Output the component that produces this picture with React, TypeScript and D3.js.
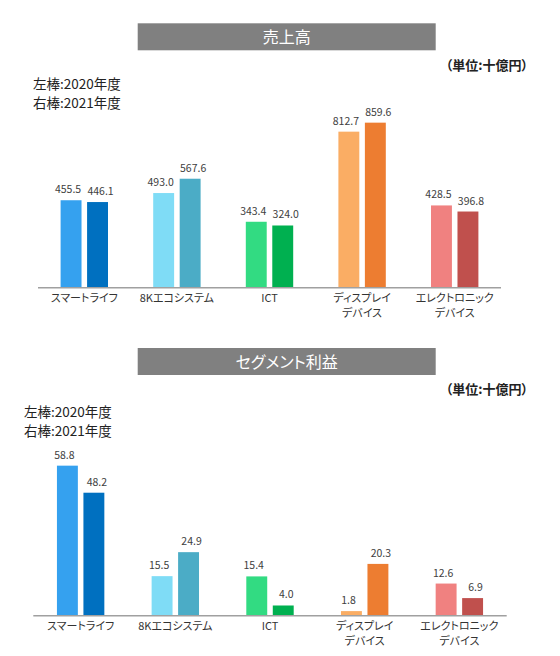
import React, { useEffect } from "react";
import * as d3 from "d3";

const categories = ["スマートライフ", "8Kエコシステム", "ICT", "ディスプレイ\nデバイス", "エレクトロニック\nデバイス"];
const years = ["2020", "2021"];
const sales2020 = [455.5, 493.0, 343.4, 812.7, 428.5];
const sales2021 = [446.1, 567.6, 324.0, 859.6, 396.8];
const profit2020 = [58.8, 15.5, 15.4, 1.8, 12.6];
const profit2021 = [48.2, 24.9, 4.0, 20.3, 6.9];
const colors2020 = ["#35A1EF", "#7FDCF6", "#32DB82", "#FAAD64", "#F08180"];
const colors2021 = ["#0070C0", "#4BACC6", "#00B050", "#ED7D31", "#C0504D"];
const salesTitle = "売上高";
const profitTitle = "セグメント利益";
const unitLabel = "（単位:十億円）";
const legendLines = ["左棒:2020年度", "右棒:2021年度"];

const FONT = "'Noto Sans CJK JP', 'Noto Sans', sans-serif";

type PanelProps = {
  title: string;
  v2020: number[];
  v2021: number[];
  yMax: number;
  pxPerUnitHeight: number;
  boxY: number;
  unitY: number;
  legendX: number;
  legendY: number[];
  axisX: [number, number];
  baseY: number;
};

function Panel(p: PanelProps) {
  const x0 = d3.scaleBand<string>().domain(categories).range(p.axisX).paddingInner(0).paddingOuter(0);
  const x1 = d3.scaleBand<string>().domain(years).range([-23.7, 23.7]).paddingInner(0.21);
  const y = d3.scaleLinear().domain([0, p.yMax]).range([p.baseY, p.baseY - p.pxPerUnitHeight]);
  const bw = x0.bandwidth();
  const series = [
    { key: "2020", values: p.v2020, colors: colors2020, dx: -3 },
    { key: "2021", values: p.v2021, colors: colors2021, dx: 3 },
  ];
  return (
    <g>
      <rect x={137.7} y={p.boxY} width={298} height={27} fill="#808080" />
      <text
        x={286.7}
        y={p.boxY + 19.5}
        textAnchor="middle"
        fill="#ffffff"
        fontSize={16}
        style={{ fontFeatureSettings: '"palt"' }}
      >
        {p.title}
      </text>
      <text
        x={528}
        y={p.unitY}
        textAnchor="end"
        fontSize={13}
        fontWeight="bold"
        fill="#222"
        style={{ fontFeatureSettings: '"palt"' }}
      >
        {unitLabel}
      </text>
      {legendLines.map((l, i) => (
        <text key={i} x={p.legendX} y={p.legendY[i]} fontSize={13.5} fill="#222">
          {l}
        </text>
      ))}
      {series.map((s) =>
        categories.map((c, i) => {
          const bx = (x0(c) as number) + bw / 2 + (x1(s.key) as number);
          const top = y(s.values[i]);
          return (
            <g key={s.key + c}>
              <rect x={bx} y={top} width={x1.bandwidth()} height={p.baseY - top} fill={s.colors[i]} />
              <text
                x={bx + x1.bandwidth() / 2 + s.dx}
                y={top - 7}
                textAnchor="middle"
                fontSize={10.5}
                fill="#404040"
              >
                {s.values[i].toFixed(1)}
              </text>
            </g>
          );
        })
      )}
      <line x1={p.axisX[0]} x2={p.axisX[1]} y1={p.baseY} y2={p.baseY} stroke="#A0A0A0" strokeWidth={1.5} />
      {categories.map((c) => {
        const cx = (x0(c) as number) + bw / 2;
        return (
          <text
            key={c}
            x={cx}
            y={p.baseY + 14.3}
            textAnchor="middle"
            fontSize={11}
            fill="#333"
            style={{ fontFeatureSettings: '"palt"' }}
          >
            {c.split("\n").map((ln, j) => (
              <tspan key={j} x={cx} dy={j === 0 ? 0 : 14.5}>
                {ln}
              </tspan>
            ))}
          </text>
        );
      })}
    </g>
  );
}

export default function App() {
  useEffect(() => {
    document.body.style.margin = "0";
  }, []);
  return (
    <svg width={560} height={656} style={{ display: "block", background: "#fff", fontFamily: FONT }}>
      <Panel
        title={salesTitle}
        v2020={sales2020}
        v2021={sales2021}
        yMax={1000}
        pxPerUnitHeight={192}
        boxY={23.3}
        unitY={69.5}
        legendX={33}
        legendY={[89, 107.5]}
        axisX={[38, 501]}
        baseY={287.7}
      />
      <Panel
        title={profitTitle}
        v2020={profit2020}
        v2021={profit2021}
        yMax={60}
        pxPerUnitHeight={153.1}
        boxY={348}
        unitY={394}
        legendX={24}
        legendY={[417, 435.5]}
        axisX={[33.3, 506.7]}
        baseY={615.7}
      />
    </svg>
  );
}
